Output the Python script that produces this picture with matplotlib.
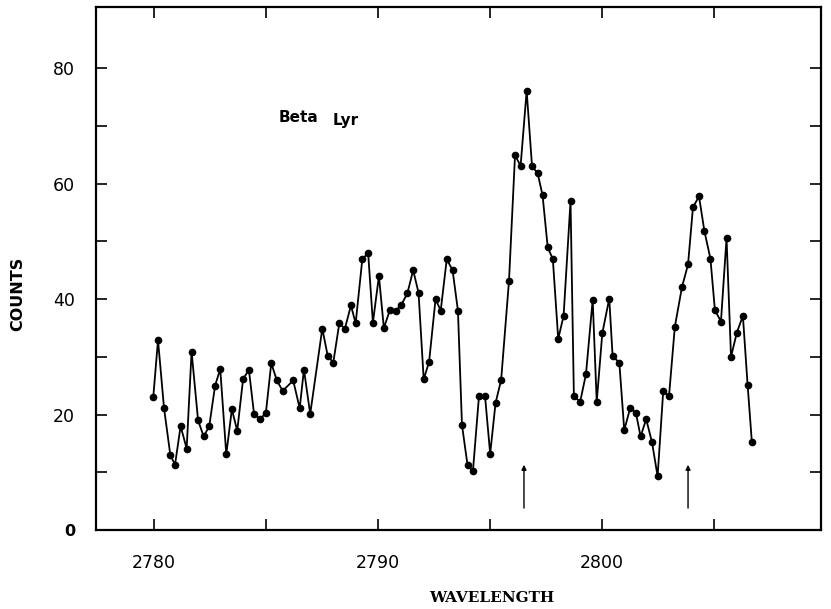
import matplotlib
matplotlib.use("Agg")
import matplotlib.pyplot as plt
from matplotlib.ticker import FixedLocator, FixedFormatter

# ---- data ----
wavelength = [
    2779.97, 2780.18, 2780.45, 2780.73, 2780.94, 2781.19, 2781.46, 2781.68, 2781.97, 2782.22,
    2782.47, 2782.73, 2782.96, 2783.23, 2783.48, 2783.72, 2783.98, 2784.24, 2784.47, 2784.74,
    2785.00, 2785.24, 2785.49, 2785.75, 2786.22, 2786.51, 2786.70, 2786.98, 2787.52, 2787.76,
    2788.01, 2788.28, 2788.53, 2788.80, 2789.01, 2789.31, 2789.57, 2789.78, 2790.05, 2790.27,
    2790.54, 2790.80, 2791.05, 2791.32, 2791.58, 2791.82, 2792.05, 2792.29, 2792.58, 2792.81,
    2793.08, 2793.34, 2793.58, 2793.76, 2794.01, 2794.25, 2794.52, 2794.79, 2795.02, 2795.26,
    2795.51, 2795.86, 2796.13, 2796.38, 2796.65, 2796.89, 2797.14, 2797.36, 2797.59, 2797.82,
    2798.06, 2798.30, 2798.61, 2798.76, 2799.04, 2799.30, 2799.60, 2799.78, 2800.03, 2800.34,
    2800.49, 2800.79, 2801.01, 2801.28, 2801.53, 2801.74, 2801.99, 2802.25, 2802.50, 2802.75,
    2803.01, 2803.27, 2803.59, 2803.86, 2804.08, 2804.35, 2804.59, 2804.86, 2805.06, 2805.33,
    2805.58, 2805.78, 2806.04, 2806.31, 2806.52, 2806.71,
]
counts = [
    23.1, 32.9, 21.1, 13.0, 11.3, 18.0, 14.1, 30.9, 19.0, 16.2,
    18.0, 25.0, 27.9, 13.1, 20.9, 17.2, 26.1, 27.8, 20.1, 19.2,
    20.3, 28.9, 25.9, 24.1, 25.9, 21.1, 27.8, 20.1, 34.9, 30.2,
    29.0, 35.8, 34.9, 38.9, 35.8, 47.0, 47.9, 35.9, 44.0, 35.0,
    38.1, 38.0, 39.0, 41.0, 45.0, 41.1, 26.1, 29.1, 40.0, 38.0,
    46.9, 45.0, 38.0, 18.2, 11.2, 10.2, 23.2, 23.2, 13.2, 22.0,
    26.0, 43.1, 64.9, 63.1, 76.1, 63.0, 61.8, 58.0, 49.0, 46.9,
    33.1, 37.1, 57.0, 23.2, 22.2, 27.0, 39.9, 22.2, 34.1, 40.1,
    30.1, 29.0, 17.3, 21.2, 20.3, 16.2, 19.2, 15.2, 9.3, 24.0,
    23.2, 35.2, 42.1, 46.0, 55.9, 57.8, 51.8, 47.0, 38.1, 36.1,
    50.6, 30.0, 34.2, 37.1, 25.2, 15.3,
]
arrow_wavelengths = [2796.53, 2803.86]
arrow_base, arrow_tip = 3.8, 11.3

x_ticks = [2780, 2785, 2790, 2795, 2800, 2805]
x_tick_labels = ["2780", "", "2790", "", "2800", ""]
y_ticks = [0, 10, 20, 30, 40, 50, 60, 70, 80]
y_tick_labels = ["0", "", "20", "", "40", "", "60", "", "80"]

title_text = ["Beta", "Lyr"]
x_label = "WAVELENGTH"
y_label = "COUNTS"

# ---- figure ----
W, H = 831, 609
fig = plt.figure(figsize=(W / 100, H / 100), dpi=100)
ax = fig.add_axes([96 / W, 1 - 530 / H, (821 - 96) / W, (530 - 7) / H])

ax.plot(wavelength, counts, color="black", lw=1.3, marker="o", ms=4.5,
        mfc="black", mec="black")

for xa in arrow_wavelengths:
    ax.annotate("", xy=(xa, arrow_tip), xytext=(xa, arrow_base),
                arrowprops=dict(arrowstyle="-|>", color="black", lw=1.0,
                                mutation_scale=7, shrinkA=0, shrinkB=0))

ax.set_xlim(2777.41, 2809.80)
ax.set_ylim(0, 90.6)

ax.xaxis.set_major_locator(FixedLocator(x_ticks))
ax.xaxis.set_major_formatter(FixedFormatter(x_tick_labels))
ax.yaxis.set_major_locator(FixedLocator(y_ticks))
ax.yaxis.set_major_formatter(FixedFormatter(y_tick_labels))

ax.tick_params(axis="both", which="both", direction="in", length=8, width=1.2,
               top=True, right=True, labelsize=12.5, colors="black")
ax.tick_params(axis="x", pad=17)
ax.tick_params(axis="y", pad=15)
for lab in ax.get_yticklabels():
    if lab.get_text() == "0":
        lab.set_fontweight("bold")
        lab.set_fontsize(11.5)

for sp in ax.spines.values():
    sp.set_linewidth(1.6)
    sp.set_color("black")

fig.text(18 / W, 1 - 294 / H, y_label, rotation=90, ha="center", va="center",
         fontsize=11.5, fontweight="bold")
fig.text(492 / W, 1 - 598 / H, x_label, ha="center", va="center",
         fontsize=11, fontweight="bold", family="DejaVu Serif")

fig.text(298 / W, 1 - 118 / H, title_text[0], ha="center", va="center",
         fontsize=11, fontweight="bold")
fig.text(346 / W, 1 - 121 / H, title_text[1], ha="center", va="center",
         fontsize=11, fontweight="bold")

fig.savefig("out.png", dpi=100)
